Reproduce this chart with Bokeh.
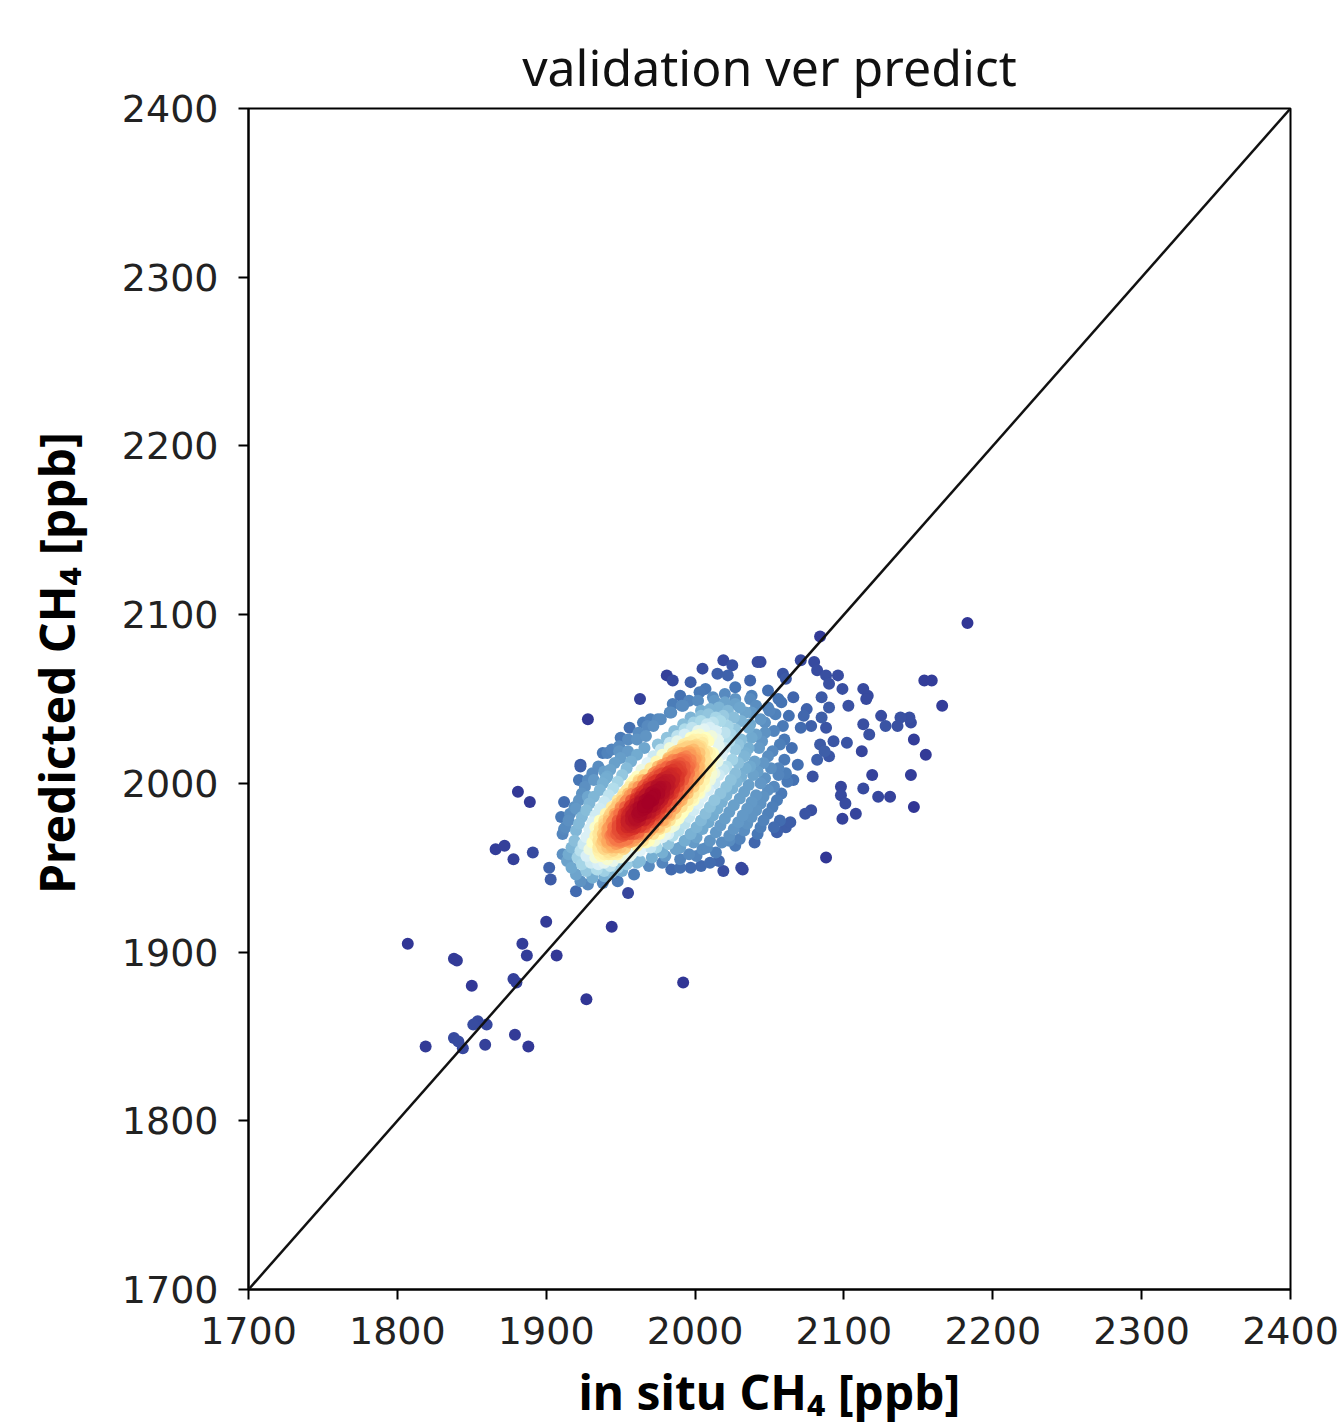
import numpy as np
from bokeh.plotting import figure
from bokeh.models import FixedTicker, Slope, Range1d, ColumnDataSource
from bokeh.embed import file_html
from bokeh.resources import INLINE

# ---- chart values: (in situ CH4, predicted CH4) in ppb ----
title_text = "validation ver predict"
x_label = "in situ CH\u2084 [ppb]"
y_label = "Predicted CH\u2084 [ppb]"
tick_values = [1700, 1800, 1900, 2000, 2100, 2200, 2300, 2400]

core_top = [
    (2003,2054),(2012,2051),(2020,2053),(2027,2050),(2038,2052),(2049,2055),(2056,2050),
    (1992,2046),(2002,2049),(2013,2049),(2020,2048),(2027,2047),(2037,2050),(2041,2046),(2058,2048),
    (1983,2042),(1991,2046),(2004,2043),(2010,2044),(2016,2045),(2022,2043),(2030,2045),(2038,2042),(2049,2045),(2054,2041),
    (1975,2038),(1984,2042),(1997,2039),(2004,2040),(2009,2041),(2014,2039),(2019,2040),(2026,2039),(2034,2042),(2044,2038),(2050,2043),(2063,2040),
    (1968,2034),(1977,2038),(1992,2035),(1999,2036),(2004,2037),(2008,2035),(2012,2036),(2017,2037),(2022,2034),(2031,2037),(2037,2035),(2047,2036),(2059,2034),
    (1962,2030),(1972,2034),(1986,2031),(1993,2032),(1998,2033),(2002,2031),(2006,2032),(2010,2033),(2014,2031),(2020,2030),(2027,2032),(2036,2033),(2041,2029),(2053,2031),(2071,2033),
    (1955,2026),(1967,2028),(1981,2027),(1988,2028),(1993,2029),(1997,2027),(2000,2028),(2003,2029),(2007,2027),(2011,2028),(2015,2026),(2024,2029),(2031,2026),(2038,2027),(2047,2030),(2060,2026),
]
core_mid = [
    (1949,2022),(1961,2026),(1975,2023),(1983,2024),(1988,2025),(1992,2023),(1995,2024),(1998,2025),(2001,2023),(2005,2024),(2009,2025),(2016,2022),(2023,2025),(2029,2023),(2036,2021),(2045,2025),(2057,2023),
    (1944,2020),(1955,2019),(1966,2021),(1977,2020),(1983,2021),(1987,2019),(1990,2020),(1993,2021),(1996,2019),(1999,2020),(2003,2021),(2008,2019),(2012,2018),(2020,2021),(2027,2020),(2034,2018),(2043,2021),(2052,2019),(2065,2021),
    (1938,2018),(1950,2015),(1961,2017),(1972,2016),(1978,2017),(1982,2015),(1985,2016),(1988,2017),(1991,2015),(1994,2016),(1997,2017),(2001,2015),(2007,2014),(2013,2016),(2018,2017),(2025,2014),(2033,2016),(2040,2013),(2049,2016),(2060,2014),
    (1935,2010),(1946,2012),(1957,2013),(1968,2012),(1974,2013),(1978,2011),(1981,2012),(1984,2013),(1987,2011),(1990,2012),(1993,2013),(1997,2011),(2003,2010),(2009,2012),(2015,2013),(2021,2010),(2029,2012),(2037,2010),(2046,2012),(2056,2009),(2069,2011),
    (1931,2006),(1943,2008),(1954,2009),(1964,2008),(1970,2009),(1974,2007),(1977,2008),(1980,2009),(1982,2007),(1985,2008),(1988,2009),(1991,2007),(1995,2008),(2001,2007),(2008,2009),(2013,2006),(2019,2008),(2027,2006),(2034,2009),(2042,2007),(2051,2009),(2061,2006),
    (1928,2002),(1941,2004),(1951,2005),(1961,2004),(1966,2005),(1970,2003),(1973,2004),(1976,2005),(1978,2003),(1981,2004),(1983,2005),(1986,2003),(1989,2004),(1993,2005),(1997,2002),(2003,2005),(2010,2003),(2016,2005),(2024,2002),(2031,2004),(2039,2005),(2047,2003),(2056,2005),(2066,2002),
    (1926,1998),(1938,2000),(1948,2001),(1957,2000),(1962,2001),(1966,1999),(1969,2000),(1972,2001),(1974,1999),(1977,2000),(1979,2001),(1982,1999),(1985,2000),(1989,2001),(1993,1998),(1999,2001),(2006,1999),(2013,2000),(2021,1998),(2028,2001),(2036,1999),(2044,2000),(2053,1998),(2062,2001),
]
core_center = [
    (1924,1994),(1936,1996),(1945,1997),(1954,1996),(1959,1997),(1963,1995),(1966,1996),(1969,1997),(1971,1995),(1974,1996),(1976,1997),(1979,1995),(1982,1996),(1986,1997),(1990,1994),(1995,1997),(2002,1995),(2009,1996),(2017,1994),(2025,1997),(2033,1995),(2041,1993),(2049,1996),(2058,1994),
    (1922,1990),(1932,1992),(1942,1993),(1951,1992),(1956,1993),(1960,1991),(1963,1992),(1966,1993),(1968,1991),(1971,1992),(1973,1993),(1976,1991),(1979,1992),(1983,1993),(1987,1990),(1992,1993),(1998,1991),(2005,1992),(2013,1990),(2021,1993),(2030,1991),(2038,1989),(2046,1992),(2055,1990),
    (1919,1986),(1929,1988),(1939,1989),(1948,1988),(1953,1989),(1957,1987),(1960,1988),(1963,1989),(1965,1987),(1968,1988),(1970,1989),(1973,1987),(1976,1988),(1980,1989),(1984,1986),(1989,1989),(1995,1987),(2002,1988),(2010,1986),(2018,1989),(2026,1987),(2035,1985),(2044,1988),(2052,1986),
    (1916,1982),(1927,1984),(1936,1985),(1945,1984),(1950,1985),(1954,1983),(1957,1984),(1960,1985),(1962,1983),(1965,1984),(1967,1985),(1970,1983),(1973,1984),(1977,1985),(1981,1982),(1986,1985),(1992,1983),(1999,1984),(2007,1982),(2015,1985),(2023,1983),(2032,1981),(2041,1984),(2049,1982),
    (1915,1978),(1924,1980),(1933,1981),(1942,1980),(1947,1981),(1951,1979),(1954,1980),(1957,1981),(1959,1979),(1962,1980),(1964,1981),(1967,1979),(1970,1980),(1974,1981),(1978,1978),(1983,1981),(1989,1979),(1996,1980),(2004,1978),(2012,1981),(2020,1979),(2029,1977),(2038,1980),(2046,1978),
    (1913,1974),(1922,1976),(1931,1977),(1939,1976),(1944,1977),(1948,1975),(1951,1976),(1954,1977),(1956,1975),(1959,1976),(1961,1977),(1964,1975),(1967,1976),(1971,1977),(1975,1974),(1980,1977),(1986,1975),(1993,1976),(2001,1974),(2009,1977),(2017,1975),(2026,1973),(2035,1976),(2044,1974),
]
core_ridge = [
    (1936,1958),(1939,1958),(1942,1958),(1945,1958),(1948,1958),
    (1935,1962),(1938,1962),(1941,1962),(1944,1962),(1947,1962),(1950,1962),(1953,1962),
    (1935,1966),(1938,1966),(1941,1966),(1944,1966),(1947,1966),(1950,1966),(1953,1966),(1956,1966),(1959,1966),
    (1935,1970),(1938,1970),(1941,1970),(1944,1970),(1947,1970),(1950,1970),(1953,1970),(1956,1970),(1959,1970),(1962,1970),(1965,1970),
    (1939,1974),(1942,1974),(1945,1974),(1948,1974),(1951,1974),(1954,1974),(1957,1974),(1960,1974),(1963,1974),(1966,1974),(1969,1974),
    (1942,1978),(1945,1978),(1948,1978),(1951,1978),(1954,1978),(1957,1978),(1960,1978),(1963,1978),(1966,1978),(1969,1978),(1972,1978),
    (1946,1982),(1949,1982),(1952,1982),(1955,1982),(1958,1982),(1961,1982),(1964,1982),(1967,1982),(1970,1982),(1973,1982),(1976,1982),
    (1950,1986),(1953,1986),(1956,1986),(1959,1986),(1962,1986),(1965,1986),(1968,1986),(1971,1986),(1974,1986),(1977,1986),(1980,1986),
    (1954,1990),(1957,1990),(1960,1990),(1963,1990),(1966,1990),(1969,1990),(1972,1990),(1975,1990),(1978,1990),(1981,1990),(1984,1990),
    (1958,1994),(1961,1994),(1964,1994),(1967,1994),(1970,1994),(1973,1994),(1976,1994),(1979,1994),(1982,1994),(1985,1994),(1988,1994),
    (1962,1998),(1965,1998),(1968,1998),(1971,1998),(1974,1998),(1977,1998),(1980,1998),(1983,1998),(1986,1998),(1989,1998),(1992,1998),
    (1965,2002),(1968,2002),(1971,2002),(1974,2002),(1977,2002),(1980,2002),(1983,2002),(1986,2002),(1989,2002),(1992,2002),(1995,2002),
    (1972,2006),(1975,2006),(1978,2006),(1981,2006),(1984,2006),(1987,2006),(1990,2006),(1993,2006),(1996,2006),
    (1975,2010),(1978,2010),(1981,2010),(1984,2010),(1987,2010),(1990,2010),(1993,2010),(1996,2010),(1999,2010),
    (1982,2014),(1985,2014),(1988,2014),(1991,2014),(1994,2014),(1997,2014),(2000,2014),
    (1985,2018),(1988,2018),(1991,2018),(1994,2018),(1997,2018),(2000,2018),(2003,2018),
    (1992,2022),(1995,2022),(1998,2022),(2001,2022),(2004,2022),
    (1999,2026),(2002,2026),(2005,2026),
]
core_ridge_flanks = [
    (1965,1966),(1969,1966),(1973,1966),
    (1968,1970),(1972,1970),(1976,1970),(1980,1970),
    (1933,1974),(1936,1974),(1972,1974),(1976,1974),(1980,1974),(1984,1974),
    (1936,1978),(1939,1978),(1975,1978),(1979,1978),(1983,1978),(1987,1978),
    (1940,1982),(1943,1982),(1979,1982),(1983,1982),(1987,1982),(1991,1982),
    (1944,1986),(1947,1986),(1983,1986),(1987,1986),(1991,1986),(1995,1986),
    (1948,1990),(1951,1990),(1987,1990),(1991,1990),(1995,1990),(1999,1990),
    (1952,1994),(1955,1994),(1991,1994),(1995,1994),(1999,1994),(2003,1994),
    (1956,1998),(1959,1998),(1995,1998),(1999,1998),(2003,1998),(2007,1998),
    (1959,2002),(1962,2002),(1998,2002),(2002,2002),(2006,2002),(2010,2002),
    (1999,2006),(2003,2006),(2007,2006),(2011,2006),
    (2002,2010),(2006,2010),(2010,2010),
    (2003,2014),(2007,2014),(2011,2014),
    (2006,2018),(2010,2018),
]
core_low = [
    (1911,1970),(1920,1972),(1929,1973),(1936,1972),(1941,1973),(1945,1971),(1948,1972),(1951,1973),(1953,1971),(1956,1972),(1959,1973),(1962,1971),(1965,1970),(1970,1972),(1976,1973),(1982,1970),(1989,1972),(1997,1970),(2005,1973),(2014,1971),(2023,1969),(2033,1972),(2042,1970),
    (1919,1966),(1927,1968),(1933,1969),(1939,1968),(1943,1969),(1946,1967),(1949,1968),(1952,1969),(1955,1967),(1958,1966),(1961,1968),(1966,1969),(1972,1966),(1978,1968),(1985,1969),(1993,1966),(2001,1968),(2010,1966),(2030,1967),(2040,1965),
    (1917,1962),(1925,1964),(1931,1965),(1937,1964),(1941,1965),(1944,1963),(1947,1964),(1950,1965),(1953,1962),(1956,1965),(1961,1963),(1967,1965),(1974,1962),(1982,1964),(1990,1962),(1999,1965),(2008,1962),(2027,1963),
    (1915,1958),(1923,1960),(1929,1961),(1935,1960),(1939,1961),(1942,1959),(1945,1960),(1948,1959),(1952,1961),(1957,1958),(1963,1960),(1970,1962),(1978,1959),(1987,1961),(1996,1958),(2005,1961),(2014,1959),
    (1914,1954),(1921,1956),(1927,1957),(1933,1956),(1937,1957),(1941,1955),(1945,1954),(1950,1956),(1956,1957),(1963,1954),(1971,1956),(1980,1957),(1990,1955),(2001,1957),
    (1917,1950),(1924,1952),(1930,1953),(1935,1952),(1939,1953),(1943,1951),(1948,1950),(1954,1952),(1961,1953),(1969,1951),(1978,1953),
    (1920,1946),(1927,1948),(1934,1949),(1939,1948),(1944,1947),(1951,1948),(1959,1946),
    (1923,1942),(1931,1944),(1939,1945),(1948,1942),
    (1928,1940),(1938,1941),
]
halo_lower_left = [
    (1807,1905),(1838,1896),(1840,1895),(1900,1918),(1944,1915),(1955,1935),(1920,1936),(1884,1905),
    (1887,1898),(1907,1898),(1850,1880),(1878,1884),(1880,1882),(1927,1872),(1992,1882),(1851,1857),
    (1860,1857),(1854,1859),(1879,1851),(1838,1849),(1841,1847),(1844,1843),(1819,1844),(1859,1845),(1888,1844),
]
halo_left = [
    (1881,1995),(1889,1989),(1866,1961),(1872,1963),(1878,1955),(1891,1959),(1902,1950),(1903,1943),
    (1911,1958),(1912,1973),(1922,2002),(1928,1992),(1912,1989),(1910,1980),(1920,1985),(1923,2010),
    (1939,2007),(1932,2002),(1928,2038),(1923,2011),(1941,2018),(1949,2019),(1950,2027),(1956,2033),
    (1965,2036),(1970,2038),(1940,2003),
]
halo_top = [
    (1963,2050),(1981,2064),(1985,2061),(1997,2060),(2005,2068),(2019,2073),(2025,2070),(2015,2065),
    (2022,2064),(2042,2072),(2037,2061),(2007,2056),(1990,2052),(1996,2049),(1985,2047),(2027,2057),
]
halo_right = [
    (2183,2095),(2084,2087),(2071,2073),(2080,2072),(2082,2067),(2088,2064),(2096,2064),(2090,2059),
    (2099,2056),(2113,2056),(2116,2052),(2115,2050),(2154,2061),(2159,2061),(2166,2046),(2103,2046),
    (2125,2040),(2128,2034),(2138,2039),(2144,2039),(2145,2036),(2136,2034),(2113,2035),(2117,2029),
    (2147,2026),(2155,2017),(2112,2019),(2102,2024),(2093,2025),(2084,2023),(2059,2065),(2061,2062),
    (2044,2072),(2066,2051),(2085,2051),(2090,2045),(2075,2044),(2085,2039),(2088,2033),(2078,2034),
    (2073,2040),(2087,2019),(2090,2016),(2082,2014),
    (2119,2005),(2145,2005),(2113,1997),(2098,1998),(2098,1993),(2123,1992),(2131,1992),(2101,1988),
    (2108,1982),(2099,1979),(2147,1986),(2088,1956),(2078,1984),(2074,1982),(2057,1978),(2053,1974),
    (2061,1974),(2055,1971),(2064,1977),(2079,2004),(2032,1949),
]
halo_bottom = [
    (1984,1949),(1990,1950),(1997,1950),(2004,1951),(2010,1953),(2016,1954),(2019,1948),(2031,1950),
    (2018,1965),(2023,1966),
]

# ---- assemble & gaussian kernel density (colour = local point density) ----
pts = (core_top + core_mid + core_center + core_ridge + core_ridge_flanks + core_low
       + halo_lower_left + halo_left + halo_top + halo_right + halo_bottom)
xs = np.array([p[0] for p in pts], dtype=float)
ys = np.array([p[1] for p in pts], dtype=float)
xy = np.vstack([xs, ys])
n = xy.shape[1]
bw = 0.85 * n ** (-1.0 / 6.0)
kcov = np.cov(xy) * bw ** 2
inv = np.linalg.inv(kcov)
d = xy.T[:, None, :] - xy.T[None, :, :]
q = np.einsum('abi,ij,abj->ab', d, inv, d)
z = np.exp(-0.5 * q).sum(axis=1)
order = np.argsort(z)
xs, ys, z = xs[order], ys[order], z[order]

anchors = ['#313695', '#4575b4', '#74add1', '#abd9e9', '#e0f3f8', '#ffffbf',
           '#fee090', '#fdae61', '#f46d43', '#d73027', '#a50026']
rgb = np.array([[int(h[i:i + 2], 16) for i in (1, 3, 5)] for h in anchors], dtype=float)
pos = np.linspace(0, 1, len(anchors))
palette = []
for t in np.linspace(0, 1, 256):
    c = [int(round(np.interp(t, pos, rgb[:, k]))) for k in range(3)]
    palette.append('#%02x%02x%02x' % tuple(c))
idx = np.round((z - z.min()) / (z.max() - z.min()) * 255).astype(int)
colors = [palette[i] for i in idx]

src = ColumnDataSource(dict(x=xs, y=ys, c=colors))

p = figure(width=1341, height=1426,
           x_range=Range1d(tick_values[0], tick_values[-1]),
           y_range=Range1d(tick_values[0], tick_values[-1]),
           output_backend="svg", toolbar_location=None,
           min_border_left=248, min_border_right=51,
           min_border_top=108, min_border_bottom=130,
           title=title_text)

p.scatter('x', 'y', source=src, size=12, fill_color='c', line_color=None)
p.add_layout(Slope(gradient=1, y_intercept=0, line_color="#111111", line_width=2.5))

p.background_fill_color = "white"
p.border_fill_color = "white"
p.grid.visible = False
p.outline_line_color = "black"
p.outline_line_width = 2
p.outline_line_alpha = 1

for ax in (p.xaxis[0], p.yaxis[0]):
    ax.ticker = FixedTicker(ticks=tick_values)
    ax.major_label_text_font = "DejaVu Sans"
    ax.major_label_text_font_size = "38px"
    ax.major_label_text_color = "#222222"
    ax.major_tick_out = 10
    ax.major_tick_in = 0
    ax.minor_tick_out = 0
    ax.minor_tick_in = 0
    ax.major_tick_line_width = 2
    ax.axis_line_width = 2
    ax.axis_label_text_font = "Noto Sans"
    ax.axis_label_text_font_style = "bold"
    ax.axis_label_text_font_size = "48px"
    ax.axis_label_text_color = "black"

p.xaxis.axis_label = x_label
p.yaxis.axis_label = "\u2003\u2002" + y_label
p.xaxis.major_label_standoff = 17
p.yaxis.major_label_standoff = 20
p.xaxis.axis_label_standoff = 12
p.yaxis.axis_label_standoff = 30

p.title.text_font = "Noto Sans"
p.title.text_font_size = "50px"
p.title.text_font_style = "normal"
p.title.align = "center"
p.title.text_color = "#111111"
p.title.standoff = 16

open("out.html", "w").write(file_html(p, INLINE))
